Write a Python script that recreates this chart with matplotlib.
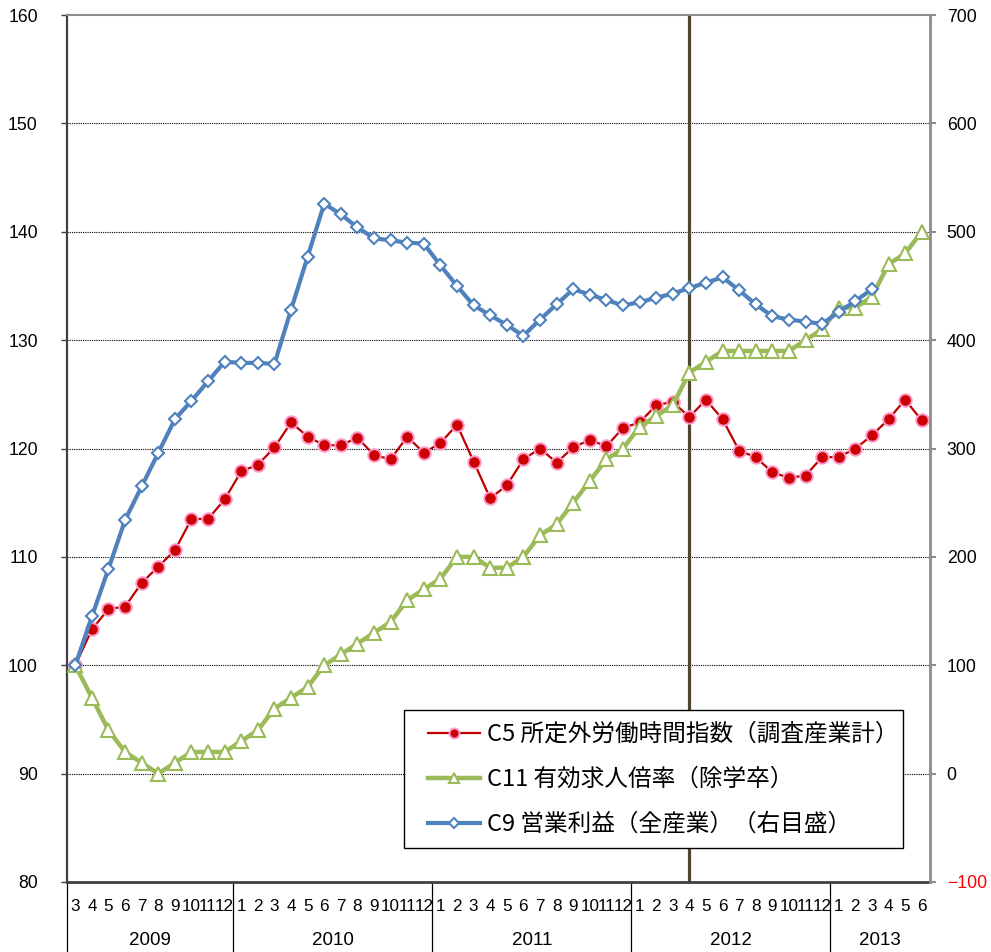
import numpy as np
import matplotlib
matplotlib.use("Agg")
import matplotlib.pyplot as plt
import matplotlib.transforms as mtransforms
from matplotlib.patches import Rectangle

# C5 所定外労働時間指数 (left axis)
c5 = [100.0, 103.3, 105.2, 105.4, 107.6, 109.1, 110.6, 113.5, 113.5, 115.3,
      117.9, 118.5, 120.1, 122.4, 121.1, 120.3, 120.3, 121.0, 119.4, 119.0, 121.1, 119.6,
      120.5, 122.2, 118.8, 115.4, 116.6, 119.0, 120.0, 118.7, 120.1, 120.8, 120.2, 121.9,
      122.4, 124.0, 124.3, 122.9, 124.5, 122.7, 119.8, 119.2, 117.8, 117.3, 117.5, 119.2,
      119.2, 120.0, 121.2, 122.7, 124.5, 122.6]
# C11 有効求人倍率 (left axis)
c11 = [100, 97, 94, 92, 91, 90, 91, 92, 92, 92,
       93, 94, 96, 97, 98, 100, 101, 102, 103, 104, 106, 107,
       108, 110, 110, 109, 109, 110, 112, 113, 115, 117, 119, 120,
       122, 123, 124, 127, 128, 129, 129, 129, 129, 129, 130, 131,
       133, 133, 134, 137, 138, 140]
# C9 営業利益 (right axis), ends 2013-3
c9 = [100, 145, 189, 234, 265, 296, 327, 344, 362, 380,
      379, 379, 378, 428, 477, 526, 516, 504, 494, 492, 490, 489,
      469, 450, 432, 423, 414, 404, 419, 433, 447, 442, 437, 432,
      435, 439, 443, 448, 453, 458, 446, 433, 422, 419, 417, 415,
      426, 436, 447]

months = ([3, 4, 5, 6, 7, 8, 9, 10, 11, 12]
          + [1, 2, 3, 4, 5, 6, 7, 8, 9, 10, 11, 12] * 3
          + [1, 2, 3, 4, 5, 6])
years = ["2009", "2010", "2011", "2012", "2013"]
year_counts = [10, 12, 12, 12, 6]
marker_month = 37  # 2012-4

labels = ["C5 所定外労働時間指数（調査産業計）",
          "C11 有効求人倍率（除学卒）",
          "C9 営業利益（全産業）（右目盛）"]

W, H = 991, 952
fig = plt.figure(figsize=(W / 100, H / 100), dpi=100)
ax = fig.add_axes([67 / W, 1 - 882 / H, 863 / W, 867 / H])
ax2 = ax.twinx()

x = np.arange(len(months))
ax.set_xlim(-0.5, len(months) - 0.5)
ax.set_ylim(80, 160)
ax2.set_ylim(-100, 700)

for v in range(90, 160, 10):
    ax.axhline(v, color="black", lw=0.8, ls=(0, (1, 1)), zorder=1)

ax.axvline(marker_month, color="#4f4630", lw=2.3, zorder=2)

red, = ax.plot(x, c5, color="#c00000", lw=1.6, marker="o", ms=9,
               mfc="#cc0000", mec="#ff99cc", mew=1.4, zorder=3)
green, = ax.plot(x, c11, color="#9bbb59", lw=3.2, marker="^", ms=9.5,
                 mfc="white", mec="#9bbb59", mew=1.5, zorder=4)
blue, = ax2.plot(x[:len(c9)], c9, color="#4f81bd", lw=3.0, marker="D", ms=6.5,
                 mfc="white", mec="#4f81bd", mew=1.5, zorder=5)

# spines
for s in ("top", "right", "left", "bottom"):
    ax2.spines[s].set_visible(False)
ax.spines["right"].set_visible(False)
ax.spines["top"].set_color("#8c8c8c")
ax.spines["top"].set_linewidth(1.5)
ax.spines["left"].set_color("#404040")
ax.spines["left"].set_linewidth(1.6)
ax.spines["bottom"].set_color("#404040")
ax.spines["bottom"].set_linewidth(2)
ax2.spines["right"].set_visible(True)
ax2.spines["right"].set_color("#8c8c8c")
ax2.spines["right"].set_linewidth(2)

# left ticks
ax.set_yticks(range(80, 161, 10))
ax.tick_params(axis="y", direction="out", length=4, width=1, color="#404040",
               pad=17, labelsize=12.7)
for t in ax.get_yticklabels():
    t.set_family("Liberation Sans")

# right ticks
rt = list(range(-100, 701, 100))
ax2.set_yticks(rt)
ax2.set_yticklabels(["\u2212100" if v < 0 else str(v) for v in rt])
ax2.tick_params(axis="y", direction="out", length=4, width=1.5, color="#8c8c8c",
                pad=8, labelsize=12.7)
for t in ax2.get_yticklabels():
    t.set_family(["Liberation Sans", "DejaVu Sans"])
ax2.get_yticklabels()[0].set_color("red")

# month labels
ax.set_xticks(x)
ax.set_xticklabels([str(m) for m in months])
ax.tick_params(axis="x", length=0, pad=12, labelsize=12.3)
for t in ax.get_xticklabels():
    t.set_family(["Liberation Sans Narrow", "Liberation Sans"])

# year groups and separators
tr = mtransforms.blended_transform_factory(ax.transData, ax.transAxes)
start = 0
bounds = [-0.5]
for yr, n in zip(years, year_counts):
    ax.text(start + (n - 1) / 2, -0.067, yr, transform=tr, ha="center", va="center",
            fontsize=13.5, family=["Liberation Sans Narrow", "Liberation Sans"])
    start += n
    bounds.append(start - 0.5)
for b in bounds[:-1]:
    ax.plot([b, b], [0, -0.1], transform=tr, color="black", lw=0.9, clip_on=False)

# legend box drawn separately so the inner padding can match
box = Rectangle((0.3905, 0.0392), 0.5782, 0.1592, transform=ax2.transAxes,
                facecolor="white", edgecolor="black", lw=1, zorder=9)
ax2.add_patch(box)
leg = ax2.legend([red, green, blue], labels, loc="upper left",
                 bbox_to_anchor=(0.4183, 0.1834), borderaxespad=0, borderpad=0,
                 frameon=False, handlelength=2.2, handletextpad=0.3,
                 labelspacing=0.93, markerscale=0.8,
                 prop={"family": ["Noto Sans CJK JP"], "size": 17})
leg.set_zorder(10)

fig.savefig("out.png", dpi=100)
